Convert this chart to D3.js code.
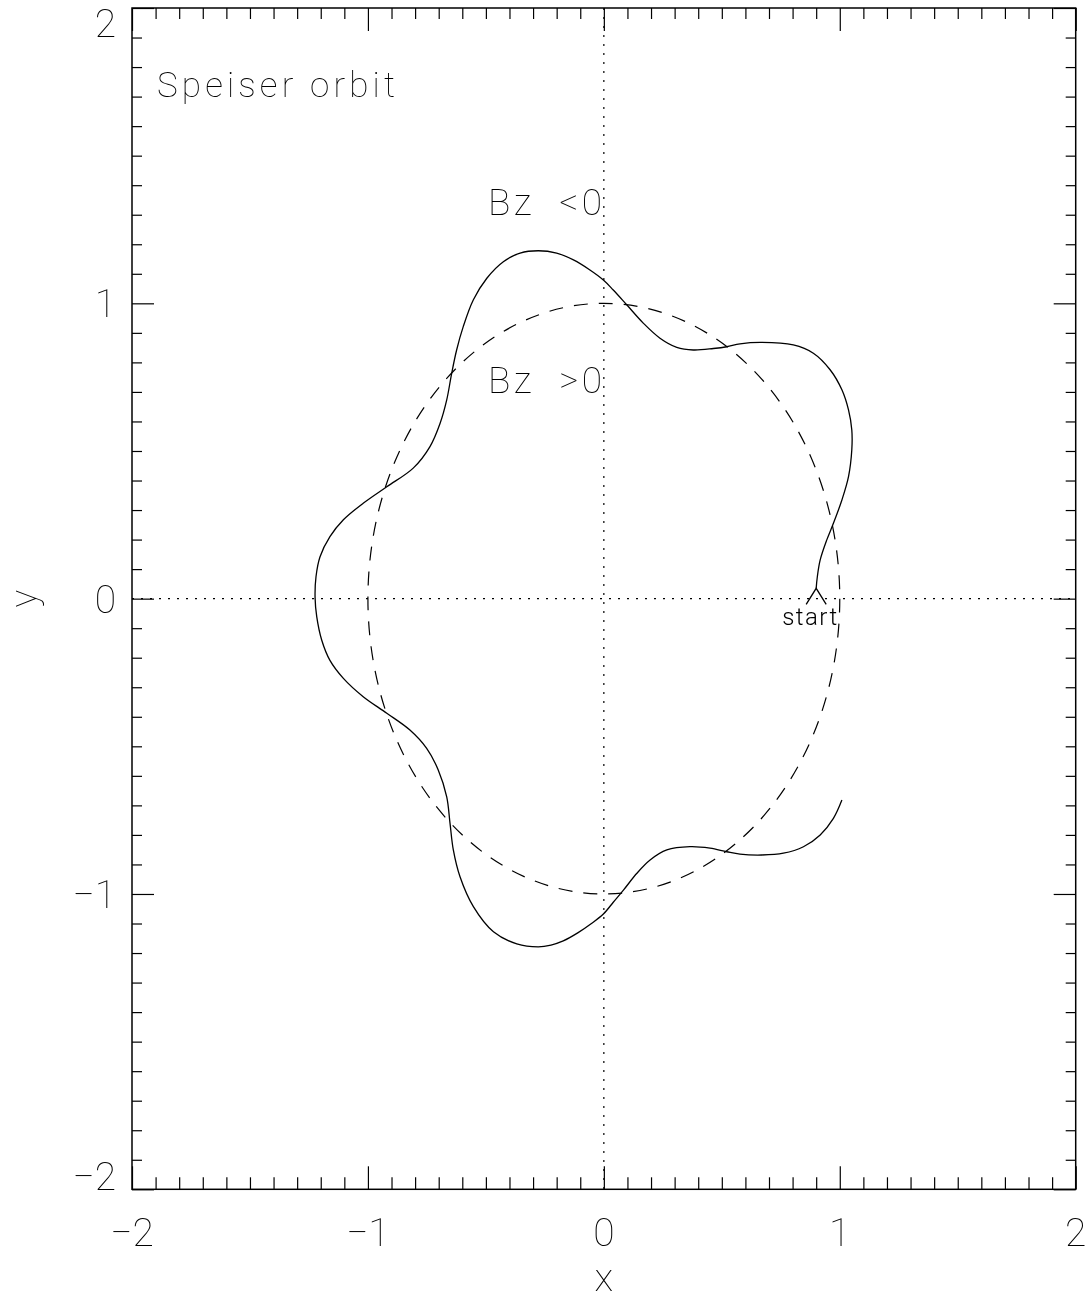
<!DOCTYPE html>
<html>
<head>
<meta charset="utf-8">
<script src="https://cdn.jsdelivr.net/npm/d3@7"></script>
<style>
  body { margin: 0; background: #fff; }
  svg { filter: grayscale(1); }
  svg text { font-family: Roboto, "DejaVu Sans", sans-serif; font-weight: 100; fill: #000; }
  .axis .domain { display: none; }
  .axis line { stroke: #000; stroke-width: 1.2; }
</style>
</head>
<body>
<div id="chart"></div>
<script>
// axis ticks
const majorTicks = [-2, -1, 0, 1, 2];
const majorLabels = ["\u22122", "\u22121", "0", "1", "2"];
const minorTicks = [-1.9, -1.8, -1.7, -1.6, -1.5, -1.4, -1.3, -1.2, -1.1,
    -0.9, -0.8, -0.7, -0.6, -0.5, -0.4, -0.3, -0.2, -0.1,
    0.1, 0.2, 0.3, 0.4, 0.5, 0.6, 0.7, 0.8, 0.9,
    1.1, 1.2, 1.3, 1.4, 1.5, 1.6, 1.7, 1.8, 1.9];

// orbit, from the start point round
const orbitX = [0.900, 0.905, 0.917, 0.945, 0.973, 1.009, 1.037, 1.051, 1.051, 1.037,
    1.009, 0.959, 0.888, 0.803, 0.669, 0.577, 0.521, 0.464, 0.379, 0.309,
    0.238, 0.167, 0.097, 0.040, -0.002, -0.059, -0.129, -0.200, -0.278, -0.355,
    -0.426, -0.496, -0.553, -0.596, -0.624, -0.645, -0.666, -0.694, -0.737, -0.808,
    -0.920, -1.020, -1.104, -1.161, -1.203, -1.220, -1.224, -1.217, -1.196, -1.161,
    -1.104, -1.020, -0.920, -0.822, -0.751, -0.702, -0.666, -0.652, -0.638, -0.610,
    -0.553, -0.468, -0.369, -0.278, -0.224, -0.172, -0.109, -0.054, -0.002, 0.040, 0.083,
    0.140, 0.196, 0.267, 0.365, 0.450, 0.521, 0.577, 0.669, 0.761, 0.846,
    0.917, 0.973, 1.009];
const orbitY = [0.035, 0.075, 0.131, 0.199, 0.255, 0.334, 0.413, 0.504, 0.571, 0.639,
    0.707, 0.775, 0.831, 0.859, 0.868, 0.863, 0.853, 0.847, 0.842, 0.851,
    0.882, 0.933, 0.995, 1.045, 1.079, 1.113, 1.147, 1.170, 1.178, 1.170,
    1.141, 1.085, 1.012, 0.921, 0.842, 0.763, 0.673, 0.594, 0.515, 0.442,
    0.379, 0.323, 0.267, 0.210, 0.142, 0.075, 0.004, -0.061, -0.140, -0.209,
    -0.270, -0.332, -0.388, -0.445, -0.507, -0.580, -0.671, -0.761, -0.851, -0.941,
    -1.043, -1.128, -1.169, -1.179, -1.173, -1.159, -1.131, -1.101, -1.068, -1.028, -0.987,
    -0.930, -0.885, -0.851, -0.840, -0.845, -0.857, -0.865, -0.868, -0.862, -0.840,
    -0.800, -0.744, -0.682];

// reference circle (dashed)
const refCircle = {cx: 0, cy: 0, r: 1};

// annotations
const notes = [
    {text: "Speiser orbit", x: -1.894, y: 1.699, size: 35, len: 238, weight: 100},
    {text: "Bz  <0", x: -0.491, y: 1.299, size: 37, len: 114, weight: 100},
    {text: "Bz  >0", x: -0.491, y: 0.697, size: 37, len: 114, weight: 100},
    {text: "start", x: 0.756, y: -0.089, size: 24, len: 55, weight: 300}
];

const width = 1090, height = 1300;
const plotLeft = 132, plotRight = 1075.7, plotTop = 8, plotBottom = 1189.3;

const svg = d3.select("#chart").append("svg")
    .attr("width", width)
    .attr("height", height);

const x = d3.scaleLinear().domain([-2, 2]).range([plotLeft, plotRight]);
const y = d3.scaleLinear().domain([-2, 2]).range([plotBottom, plotTop]);

// ticks on all four sides, pointing inwards
function ticks(axisFn, scale, values, size, tx, ty) {
    svg.append("g")
        .attr("class", "axis")
        .attr("transform", "translate(" + tx + "," + ty + ")")
        .call(axisFn(scale).tickValues(values).tickSize(size).tickFormat(""));
}
ticks(d3.axisBottom, x, majorTicks, -23, 0, plotBottom);
ticks(d3.axisBottom, x, minorTicks, -12, 0, plotBottom);
ticks(d3.axisTop, x, majorTicks, -23, 0, plotTop);
ticks(d3.axisTop, x, minorTicks, -11, 0, plotTop);
ticks(d3.axisLeft, y, majorTicks, -22, plotLeft, 0);
ticks(d3.axisLeft, y, minorTicks, -10, plotLeft, 0);
ticks(d3.axisRight, y, majorTicks, -22, plotRight, 0);
ticks(d3.axisRight, y, minorTicks, -10, plotRight, 0);

// frame
svg.append("rect")
    .attr("x", plotLeft).attr("y", plotTop)
    .attr("width", plotRight - plotLeft).attr("height", plotBottom - plotTop)
    .attr("fill", "none").attr("stroke", "#000").attr("stroke-width", 1.5);

// tick labels
svg.selectAll(".xlab").data(majorTicks).enter().append("text")
    .attr("class", "xlab")
    .attr("x", d => x(d))
    .attr("y", 1246)
    .attr("text-anchor", "middle")
    .style("font-size", "39px")
    .text((d, i) => majorLabels[i]);

// y labels are kept inside the frame height at both ends
svg.selectAll(".ylab").data(majorTicks).enter().append("text")
    .attr("class", "ylab")
    .attr("x", 116)
    .attr("y", d => Math.min(Math.max(y(d) + 14, plotTop + 29), plotBottom + 1))
    .attr("text-anchor", "end")
    .style("font-size", "39px")
    .text((d, i) => majorLabels[i]);

// axis titles
svg.append("text")
    .attr("x", x(0)).attr("y", 1291)
    .attr("text-anchor", "middle")
    .style("font-size", "39px")
    .text("x");
svg.append("text")
    .attr("transform", "translate(36," + y(0) + ") rotate(-90)")
    .attr("text-anchor", "middle")
    .style("font-size", "37px")
    .text("y");

// zero lines
svg.append("line")
    .attr("x1", x(0)).attr("x2", x(0)).attr("y1", plotTop).attr("y2", plotBottom)
    .attr("stroke", "#000").attr("stroke-width", 1.2).attr("stroke-dasharray", "2,7");
svg.append("line")
    .attr("x1", plotLeft).attr("x2", plotRight).attr("y1", y(0)).attr("y2", y(0))
    .attr("stroke", "#000").attr("stroke-width", 1.2).attr("stroke-dasharray", "2,7");

// dashed reference circle
svg.append("ellipse")
    .attr("cx", x(refCircle.cx)).attr("cy", y(refCircle.cy))
    .attr("rx", x(refCircle.r) - x(0)).attr("ry", y(0) - y(refCircle.r))
    .attr("fill", "none").attr("stroke", "#000").attr("stroke-width", 1.2)
    .attr("stroke-dasharray", "14,11");

// orbit
const orbit = orbitX.map((d, i) => [d, orbitY[i]]);
const line = d3.line()
    .x(d => x(d[0]))
    .y(d => y(d[1]))
    .curve(d3.curveCatmullRom);
svg.append("path")
    .datum(orbit)
    .attr("d", line)
    .attr("fill", "none").attr("stroke", "#000").attr("stroke-width", 1.3);

// arrow head at start
const sx = x(orbit[0][0]), sy = y(orbit[0][1]);
svg.append("path")
    .attr("d", "M" + (sx - 10) + "," + (sy + 16) + "L" + sx + "," + sy + "L" + (sx + 10) + "," + (sy + 16))
    .attr("fill", "none").attr("stroke", "#000").attr("stroke-width", 1.3);

// text notes
svg.selectAll(".note").data(notes).enter().append("text")
    .attr("class", "note")
    .attr("x", d => x(d.x))
    .attr("y", d => y(d.y))
    .attr("textLength", d => d.len)
    .attr("lengthAdjust", "spacing")
    .style("font-size", d => d.size + "px")
    .style("font-weight", d => d.weight)
    .style("white-space", "pre")
    .text(d => d.text);
</script>
</body>
</html>
